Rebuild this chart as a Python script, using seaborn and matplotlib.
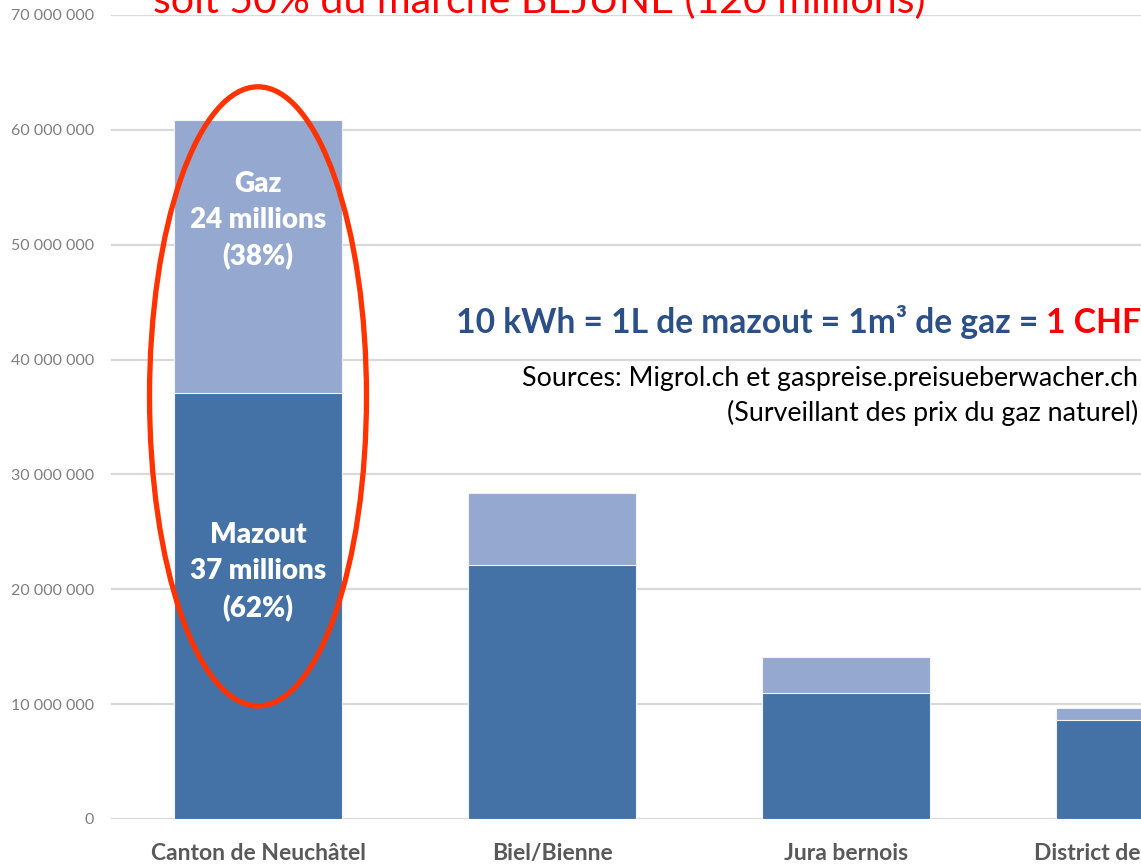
import matplotlib
matplotlib.use('Agg')
import matplotlib.pyplot as plt
import seaborn as sns
import pandas as pd
from matplotlib.patches import Ellipse
from matplotlib.ticker import FuncFormatter

regions = ["Canton de Neuchâtel", "Biel/Bienne", "Jura bernois", "District de Delémont"]
mazout = [37.1e6, 22.1e6, 11.0e6, 8.6e6]
gaz = [23.8e6, 6.3e6, 3.1e6, 1.1e6]
yticks = list(range(0, 70_000_001, 10_000_000))
gaz_label = "Gaz\n24 millions\n(38%)"
mazout_label = "Mazout\n37 millions\n(62%)"
title = "soit 50% du marché BEJUNE (120 millions)"
equiv_blue = "10 kWh = 1L de mazout = 1m³ de gaz = "
equiv_red = "1 CHF"
source1 = "Sources: Migrol.ch et gaspreise.preisueberwacher.ch"
source2 = "(Surveillant des prix du gaz naturel)"

C_MAZ = "#4472A7"
C_GAZ = "#95A9D0"

df = pd.DataFrame({"region": regions, "mazout": mazout, "gaz": gaz})
df["total"] = df["mazout"] + df["gaz"]

sns.set_theme(style="white")
plt.rcParams['font.family'] = ['Lato', 'DejaVu Sans']

W, H = 1141, 864
fig = plt.figure(figsize=(W / 100, H / 100), dpi=100)
ax = fig.add_axes([111 / W, 45 / H, 1176 / W, 804 / H])

sns.barplot(data=df, x="region", y="total", color=C_GAZ, width=0.57,
            saturation=1, edgecolor="#F2F2F2", linewidth=0.8, ax=ax, zorder=2)
sns.barplot(data=df, x="region", y="mazout", color=C_MAZ, width=0.57,
            saturation=1, edgecolor="#F2F2F2", linewidth=0.8, ax=ax, zorder=3)

ax.set_xlim(-0.5, len(regions) - 0.5)
ax.set_ylim(0, 70e6)
ax.set_yticks(yticks)
ax.yaxis.set_major_formatter(FuncFormatter(lambda v, p: f"{v:,.0f}".replace(",", " ")))
ax.grid(axis="y", color="#D9D9D9", lw=1.6, zorder=0)
ax.grid(axis="x", visible=False)
ax.set_axisbelow(True)
for s in ax.spines.values():
    s.set_visible(False)
ax.tick_params(axis="y", length=0, pad=12, labelsize=11.5, labelcolor="#7F7F7F")
ax.tick_params(axis="x", length=0, pad=17, labelsize=16.5, labelcolor="#595959")
for t in ax.get_xticklabels():
    t.set_fontweight("bold")
ax.set_xlabel("")
ax.set_ylabel("")

# labels inside first bar
ax.text(0, 52.1e6, gaz_label, ha="center", va="center", color="white",
        fontsize=20, fontweight="heavy", linespacing=1.47, zorder=6)
ax.text(0, 21.5e6, mazout_label, ha="center", va="center", color="white",
        fontsize=20, fontweight="heavy", linespacing=1.47, zorder=6)

ax.add_patch(Ellipse((0, 36.8e6), width=0.738, height=53.9e6, fill=False,
                     edgecolor="#FF3300", lw=3.8, zorder=7, clip_on=False))

fig.text(539 / W, 1 - 13 / H, title, ha="center", va="baseline", color="#FF0000",
         fontsize=29.6)

tb = fig.text(456 / W, 1 - 333 / H, equiv_blue, ha="left", va="baseline",
              color="#2B4F87", fontsize=24.2, fontweight="bold")
fig.canvas.draw()
bb = tb.get_window_extent()
fig.text(bb.x1 / W, 1 - 333 / H, equiv_red, ha="left", va="baseline",
         color="#FF0000", fontsize=24.2, fontweight="bold")

fig.text(1138 / W, 1 - 386 / H, source1, ha="right", va="baseline", color="black", fontsize=19.3)
fig.text(1138 / W, 1 - 421 / H, source2, ha="right", va="baseline", color="black", fontsize=19.3)

fig.savefig("out.png", dpi=100)
